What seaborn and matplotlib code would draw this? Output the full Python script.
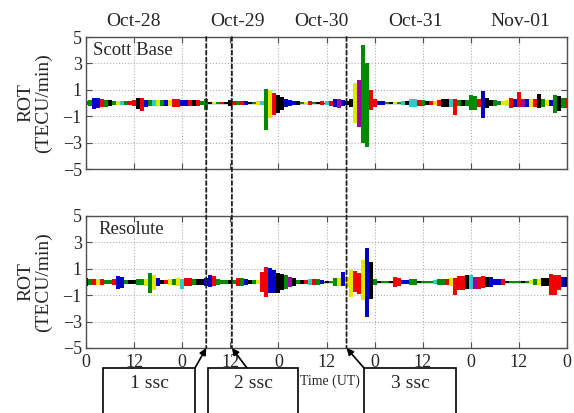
"""ROT at Scott Base and Resolute, Oct-28 .. Nov-01"""
import matplotlib
matplotlib.use('Agg')
import pandas as pd
import matplotlib.pyplot as plt
import seaborn as sns
from matplotlib.patches import Rectangle, ConnectionPatch

# hours since Oct-28 00 UT, one value per hour
hours = list(range(121))

scott_upper = [
    .15, .2, .38, .38, .3, .25, .22, .15, .15, .15, .12, .15, .2, .38, .35, .25, .25, .2, .25, .25, .2,
    .25, .3, .3, .25, .25, .2, .2, .2, .15, .28, .1, .1, .1, .1, .1, .2, .15, .12, .15, .12,
    .1, .1, .12, .15, 1.06, 1.0, .73, .6, .45, .3, .25, .15, .12, .1, .1, .12, .1, .1, .12, .15,
    .18, .3, .3, .25, .15, .3, 1.5, 1.75, 4.4, 3.0, 1.0, .3, .15, .12, .1, .1, .1, .1, .12, .15,
    .3, .3, .2, .2, .15, .15, .15, .2, .3, .3, .3, .3, .2, .2, .25, .6, .5, .3, .9, .4,
    .25, .25, .15, .15, .2, .35, .3, .85, .3, .3, .3, .3, .68, .3, .2, .2, .6, .5, .4, .35]
scott_lower = [
    -.15, -.2, -.45, -.4, -.3, -.28, -.25, -.15, -.15, -.15, -.12, -.15, -.2, -.45, -.58, -.3, -.25, -.2, -.25, -.25, -.2,
    -.25, -.3, -.3, -.25, -.25, -.2, -.2, -.2, -.15, -.5, -.1, -.1, -.1, -.1, -.1, -.2, -.15, -.15, -.15, -.12,
    -.1, -.1, -.12, -.15, -2.05, -1.15, -.9, -.75, -.5, -.3, -.25, -.15, -.12, -.1, -.1, -.12, -.1, -.1, -.12, -.15,
    -.2, -.3, -.35, -.25, -.15, -.3, -1.55, -1.8, -3.05, -3.3, -.5, -.3, -.15, -.12, -.1, -.1, -.1, -.1, -.12, -.15,
    -.3, -.3, -.2, -.2, -.15, -.15, -.15, -.2, -.3, -.3, -.3, -.9, -.2, -.2, -.25, -.5, -.5, -.3, -1.15, -.4,
    -.25, -.25, -.15, -.15, -.2, -.35, -.3, -.3, -.3, -.3, -.3, -.3, -.4, -.3, -.2, -.2, -.75, -.6, -.4, -.35]
# dominant satellite colour in each hour
scott_sat = ("rgbbrgkgycgrrkrbgcygbyrrbbrkrgg"
             "kygrkkrgrbkgycgyrkkbbbkgyrgkrc"
             "rbmbkkymggrrbbgkygckccrgkryrkk"
             "crgkgggrbkkggyyrbrmbyrkgybgkgr")

resolute_upper = [
    .3, .25, .2, .2, .2, .15, .15, .2, .45, .4, .15, .12, .15, .2, .2, .25, .65, .55, .3, .15, .15,
    .2, .2, .3, .2, .3, .3, .2, .2, .2, .3, .53, .45, .25, .15, .15, .15, .15, .3, .3, .25,
    .12, .12, .15, .78, 1.1, 1.05, .9, .65, .6, .5, .4, .3, .15, .15, .15, .2, .2, .2, .15, .1,
    .1, .3, .3, .78, .35, .9, .8, .7, 1.65, 2.55, 1.5, .2, .1, .1, .1, .1, .4, .3, .15, .15,
    .2, .2, .1, .1, .1, .1, .15, .25, .25, .25, .3, .3, .45, .45, .53, .5, .4, .4, .45, .4,
    .35, .2, .2, .2, .1, .1, .1, .1, .1, .1, .12, .2, .2, .3, .3, .58, .55, .5, .35, .35]
resolute_lower = [
    -.3, -.25, -.2, -.2, -.2, -.15, -.15, -.2, -.55, -.45, -.15, -.12, -.15, -.2, -.2, -.3, -.8, -.6, -.3, -.15, -.15,
    -.2, -.2, -.3, -.55, -.3, -.3, -.2, -.2, -.2, -.3, -.35, -.3, -.25, -.15, -.15, -.15, -.15, -.3, -.3, -.25,
    -.12, -.12, -.15, -.73, -1.1, -.85, -.85, -.85, -.6, -.5, -.4, -.3, -.15, -.15, -.15, -.2, -.25, -.2, -.15, -.1,
    -.1, -.3, -.3, -.3, -.35, -1.1, -.75, -.9, -1.35, -2.68, -1.25, -.2, -.1, -.1, -.1, -.1, -.35, -.3, -.15, -.15,
    -.2, -.2, -.1, -.1, -.1, -.1, -.15, -.25, -.25, -.25, -.3, -1.0, -.6, -.6, -.55, -.55, -.5, -.5, -.45, -.4,
    -.35, -.2, -.2, -.2, -.1, -.1, -.1, -.1, -.1, -.1, -.12, -.2, -.2, -.3, -.3, -1.0, -1.0, -.6, -.35, -.35]
resolute_sat = ("kgryrggrbbgkkggygybkrygycrrgkkb"
                "brgggkgrgbkgyrrbbkkgmkgkrcrgbk"
                "ggybyyrrybkgkggkrrbbggkgggcggr"
                "yrrrkcmrrkbbbrkgggkgygykkrrrbk")

ssc_hours = [30.0, 36.4, 65.0]
ssc_labels = ['1 ssc', '2 ssc', '3 ssc']
date_labels = ['Oct-28', 'Oct-29', 'Oct-30', 'Oct-31', 'Nov-01']
date_hours = [11.75, 37.75, 58.75, 82.25, 108.25]
x_ticks = list(range(0, 121, 12))
x_ticklabels = ['0', '12', '0', '12', '0', '12', '0', '12', '0', '12', '0']
y_ticks = [-5, -3, -1, 1, 3, 5]

sat_colors = {'b': '#0000c8', 'r': '#f00000', 'g': '#008a00', 'k': '#000000',
              'y': '#e6e600', 'c': '#30c8c8', 'm': '#a000a0'}

sns.set_theme(style='ticks')
plt.rcParams['font.family'] = ['Liberation Serif', 'DejaVu Serif']
plt.rcParams['axes.unicode_minus'] = True

W, H = 574, 413
fig = plt.figure(figsize=(W / 100, H / 100), dpi=100)
ax_top = fig.add_axes([86 / W, 1 - 169 / H, 481 / W, 132 / H])
ax_bot = fig.add_axes([86 / W, 1 - 348 / H, 481 / W, 132 / H])

panels = [(ax_top, 'Scott Base', scott_upper, scott_lower, scott_sat, 0.015),
          (ax_bot, 'Resolute', resolute_upper, resolute_lower, resolute_sat, 0.025)]

for ax, name, upper, lower, sats, tx in panels:
    df = pd.DataFrame({'hour': hours * 2, 'rot': upper + lower, 'sat': list(sats) * 2})
    # quiet-time trace along zero
    ax.axhline(0, color='#1a3a1a', lw=1.0, zorder=1)
    sns.lineplot(data=df, x='hour', y='rot', hue='sat', units='hour', estimator=None,
                 palette=sat_colors, linewidth=2.9, legend=False, ax=ax,
                 solid_capstyle='butt', zorder=2)
    ax.set_xlim(0, 120)
    ax.set_ylim(-5, 5)
    ax.set_xticks(x_ticks)
    ax.set_xticklabels(x_ticklabels)
    ax.set_yticks(y_ticks)
    ax.grid(True, ls=':', color='#b0b0b0', lw=0.8)
    ax.tick_params(direction='in', top=True, right=True, length=4, width=0.8,
                   labelsize=13, color='#505050', pad=3)
    for sp in ax.spines.values():
        sp.set_color('#505050')
        sp.set_linewidth(1.0)
    ax.set_xlabel('')
    ax.set_ylabel('ROT\n(TECU/min)', fontsize=14, linespacing=1.05)
    ax.yaxis.set_label_coords(-0.07, 0.5)
    ax.text(tx, 0.965, name, transform=ax.transAxes, va='top', ha='left', fontsize=13.5)

ax_top.tick_params(labelbottom=False)
ax_bot.tick_params(axis='x', pad=4)

for h, lab in zip(date_hours, date_labels):
    ax_top.annotate(lab, xy=(h, 1.12), xycoords=('data', 'axes fraction'),
                    ha='center', va='center', fontsize=14, annotation_clip=False)

# dashed ssc lines through both panels
for h in ssc_hours:
    con = ConnectionPatch(xyA=(h, 5), coordsA='data', axesA=ax_top,
                          xyB=(h, -5), coordsB='data', axesB=ax_bot,
                          color='#202020', lw=1.3, linestyle=(0, (2.2, 1.6)))
    fig.add_artist(con)

fig.text(330 / W, 1 - 381 / H, 'Time (UT)', ha='center', va='center', fontsize=10)

# boxes under the panels
box_top = 1 - 368 / H
for x0, x1, lab in [(103, 195, ssc_labels[0]), (208, 298, ssc_labels[1]), (364, 456, ssc_labels[2])]:
    fig.add_artist(Rectangle((x0 / W, -0.1), (x1 - x0) / W, box_top + 0.1,
                             transform=fig.transFigure, facecolor='white',
                             edgecolor='black', lw=1.2, zorder=2))
    fig.text((x0 + x1) / 2 / W, 1 - 383 / H, lab, ha='center', va='center', fontsize=14, zorder=3)

for h, px in zip(ssc_hours, [195, 247, 364]):
    ax_bot.annotate('', xy=(h, -5), xycoords='data', xytext=(px / W, box_top),
                    textcoords='figure fraction', annotation_clip=False,
                    arrowprops=dict(arrowstyle='-|>', color='black', lw=1.2,
                                    mutation_scale=10, shrinkA=0, shrinkB=0))

fig.savefig('out.png', dpi=100)
plt.close()
